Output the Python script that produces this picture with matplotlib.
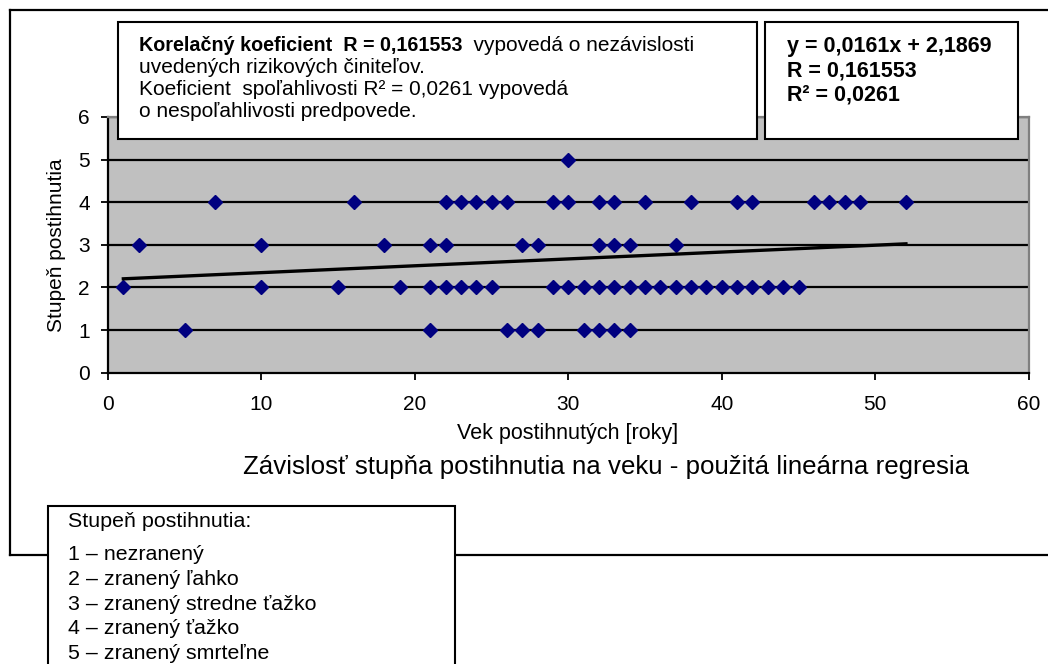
import numpy as np
import matplotlib
matplotlib.use("Agg")
import matplotlib.pyplot as plt
from matplotlib.patches import Rectangle
from matplotlib.lines import Line2D

plt.rcParams['font.family'] = ['Liberation Sans', 'DejaVu Sans']

# data: age of victims for each degree of injury (one list per row of the chart)
age_st1 = [5, 21, 26, 27, 28, 31, 32, 33, 34]
age_st2 = [1, 10, 15, 19, 21, 22, 23, 24, 25, 29, 30, 31, 32, 33, 34, 35,
           36, 37, 38, 39, 40, 41, 42, 43, 44, 45]
age_st3 = [2, 10, 18, 21, 22, 27, 28, 32, 33, 34, 37]
age_st4 = [7, 16, 22, 23, 24, 25, 26, 29, 30, 32, 33, 35, 38, 41, 42, 46,
           47, 48, 49, 52]
age_st5 = [30]

slope = 0.0161
intercept = 2.1869

x_ticks = [0, 10, 20, 30, 40, 50, 60]
y_ticks = [0, 1, 2, 3, 4, 5, 6]

legend_lines = [
    'Stupeň postihnutia:',
    '1 – nezranený',
    '2 – zranený ľahko',
    '3 – zranený stredne ťažko',
    '4 – zranený ťažko',
    '5 – zranený smrteľne',
]

W, H = 1048, 664


def fx(x):
    return x / W


def fy(y):
    return 1 - y / H


fig = plt.figure(figsize=(W / 100, H / 100), dpi=100)

# outer chart frame (open on the right)
for xs, ys in [([10, W], [10, 10]), ([10, 10], [10, 555]), ([10, W], [555, 555])]:
    fig.add_artist(Line2D([fx(v) for v in xs], [fy(v) for v in ys],
                          color='black', lw=1.6, zorder=1))

ax = fig.add_axes([fx(108), fy(372.7), fx(1028.7 - 108), (372.7 - 117) / H])
ax.set_facecolor('#C0C0C0')

ages, degrees = [], []
for d, arr in enumerate([age_st1, age_st2, age_st3, age_st4, age_st5], start=1):
    ages += arr
    degrees += [d] * len(arr)
ages = np.array(ages)
degrees = np.array(degrees)

for yv in y_ticks[1:]:
    ax.axhline(yv, color='black', lw=1.6, zorder=1)

ax.plot(ages, degrees, linestyle='none', marker='D', markersize=6.8,
        color='#000080', zorder=3)

xl = np.array([ages.min(), ages.max()])
ax.plot(xl, slope * xl + intercept, color='black', lw=2.4, zorder=4)

ax.set_xlim(0, 60)
ax.set_ylim(0, 6)
ax.set_xticks(x_ticks)
ax.set_yticks(y_ticks)
ax.tick_params(labelsize=15, length=5, width=1.3, color='black')
ax.tick_params(axis='x', pad=11)
ax.tick_params(axis='y', pad=8)
for s in ['left', 'bottom']:
    ax.spines[s].set_color('black')
    ax.spines[s].set_linewidth(1.6)
for s in ['top', 'right']:
    ax.spines[s].set_color('#808080')
    ax.spines[s].set_linewidth(1.6)

fig.text(fx(568), fy(434), 'Vek postihnutých [roky]', ha='center', va='center', fontsize=15.5)
fig.text(fx(56), fy(245), 'Stupeň postihnutia', ha='center', va='center',
         rotation=90, fontsize=15)
fig.text(fx(606), fy(467), 'Závislosť stupňa postihnutia na veku - použitá lineárna regresia',
         ha='center', va='center', fontsize=18.6)

# annotation boxes over the top of the plot
for x0, y0, x1, y1 in [(118, 22, 757, 139), (765, 22, 1018, 139), (48, 506, 455, 700)]:
    fig.add_artist(Rectangle((fx(x0), fy(y1)), fx(x1 - x0), (y1 - y0) / H,
                             facecolor='white', edgecolor='black', lw=1.5, zorder=5))

nsz = 15
bsz = 14.2
t1 = fig.text(fx(139), fy(51), 'Korelačný koeficient  R = 0,161553', fontweight='bold',
              fontsize=bsz, va='baseline', zorder=6)
fig.add_artist(plt.Annotation('  vypovedá o nezávislosti', xy=(1, 0), xycoords=t1,
                              va='bottom', ha='left', fontsize=nsz, zorder=6))
fig.text(fx(139), fy(73), 'uvedených rizikových činiteľov.', fontsize=nsz,
         va='baseline', zorder=6)
fig.text(fx(139), fy(95), 'Koeficient  spoľahlivosti R² = 0,0261 vypovedá', fontsize=nsz,
         va='baseline', zorder=6)
fig.text(fx(139), fy(117), 'o nespoľahlivosti predpovede.', fontsize=nsz,
         va='baseline', zorder=6)

fig.text(fx(787), fy(52), 'y = 0,0161x + 2,1869', fontweight='bold', fontsize=15.5,
         va='baseline', zorder=6)
fig.text(fx(787), fy(76), 'R = 0,161553', fontweight='bold', fontsize=15.5,
         va='baseline', zorder=6)
fig.text(fx(787), fy(100), 'R² = 0,0261', fontweight='bold', fontsize=15.5,
         va='baseline', zorder=6)

leg_y = [527, 560, 585, 610, 634, 659]
for yy, s in zip(leg_y, legend_lines):
    fig.text(fx(68), fy(yy), s, fontsize=15.4, va='baseline', zorder=6)

fig.savefig('out.png', dpi=100)
